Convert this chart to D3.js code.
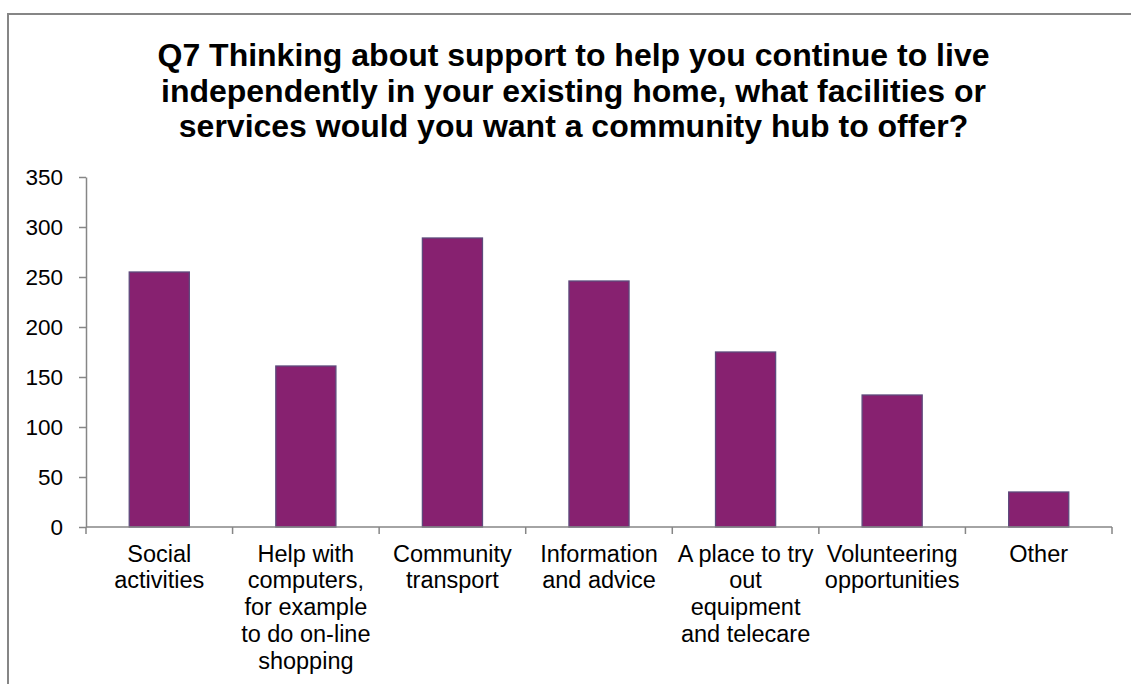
<!DOCTYPE html>
<html>
<head>
<meta charset="utf-8">
<script src="https://cdn.jsdelivr.net/npm/d3@7"></script>
<style>
  html, body { margin: 0; padding: 0; background: #fff; }
  svg { display: block; }
  text { font-family: "Liberation Sans", Arial, sans-serif; fill: #000; }
</style>
</head>
<body>
<svg id="chart" width="1131" height="684"></svg>
<script>
// Survey responses per facility / service
const categories = [
  "Social activities",
  "Help with computers, for example to do on-line shopping",
  "Community transport",
  "Information and advice",
  "A place to try out equipment and telecare",
  "Volunteering opportunities",
  "Other"
];
const values = [255, 161, 289, 246, 175, 132, 35];
const tickLabels = [
  ["Social", "activities"],
  ["Help with", "computers,", "for example", "to do on-line", "shopping"],
  ["Community", "transport"],
  ["Information", "and advice"],
  ["A place to try", "out", "equipment", "and telecare"],
  ["Volunteering", "opportunities"],
  ["Other"]
];
const yTicks = [0, 50, 100, 150, 200, 250, 300, 350];
const titleLines = [
  "Q7 Thinking about support to help you continue to live",
  "independently in your existing home, what facilities or",
  "services would you want a community hub to offer?"
];

const svg = d3.select("#chart");
const W = 1131, H = 684;
const axisColor = "#868686";

// Chart area frame (open on the right and bottom)
svg.append("path")
  .attr("d", `M8,${H} L8,14 L${W},14`)
  .attr("fill", "none")
  .attr("stroke", axisColor)
  .attr("stroke-width", 2);

// Title
svg.append("text")
  .attr("text-anchor", "middle")
  .attr("font-size", 32)
  .attr("font-weight", "bold")
  .selectAll("tspan")
  .data(titleLines)
  .join("tspan")
  .attr("x", 573.5)
  .attr("y", (d, i) => 66 + i * 35.5)
  .text(d => d);

const plot = { left: 86, right: 1112, top: 177, bottom: 527 };

const x = d3.scaleBand()
  .domain(categories)
  .range([plot.left, plot.right])
  .paddingInner(0.59)
  .paddingOuter(0.295);

const y = d3.scaleLinear()
  .domain([0, 350])
  .range([plot.bottom, plot.top]);

// Bars
svg.append("g")
  .selectAll("rect")
  .data(categories)
  .join("rect")
  .attr("x", d => x(d))
  .attr("width", x.bandwidth())
  .attr("y", (d, i) => y(values[i]))
  .attr("height", (d, i) => y(0) - y(values[i]))
  .attr("fill", "#872170")
  .attr("stroke", "#5e4a7c")
  .attr("stroke-width", 1.3);

// Y axis
const yAxis = svg.append("g")
  .attr("transform", `translate(${plot.left},0)`)
  .call(d3.axisLeft(y).tickValues(yTicks).tickSize(7).tickPadding(16).tickSizeOuter(0));
yAxis.select(".domain").attr("stroke", axisColor).attr("stroke-width", 1.5);
yAxis.selectAll(".tick line").attr("stroke", axisColor).attr("stroke-width", 1.5);
yAxis.selectAll(".tick text")
  .attr("font-size", 22.5)
  .attr("font-family", "Liberation Sans, Arial, sans-serif")
  .attr("fill", "#000");

// X axis: boundary ticks between categories
const boundaries = d3.range(categories.length + 1).map(i => plot.left + i * (plot.right - plot.left) / categories.length);
const xg = svg.append("g");
xg.append("line")
  .attr("x1", plot.left).attr("x2", plot.right)
  .attr("y1", plot.bottom).attr("y2", plot.bottom)
  .attr("stroke", axisColor).attr("stroke-width", 1.5);
xg.selectAll("line.tk")
  .data(boundaries)
  .join("line")
  .attr("class", "tk")
  .attr("x1", d => d).attr("x2", d => d)
  .attr("y1", plot.bottom).attr("y2", plot.bottom + 7)
  .attr("stroke", axisColor).attr("stroke-width", 1.5);

// Category labels
xg.selectAll("text.cat")
  .data(categories)
  .join("text")
  .attr("class", "cat")
  .attr("text-anchor", "middle")
  .attr("font-size", 23.5)
  .each(function (d, i) {
    const cx = x(d) + x.bandwidth() / 2;
    d3.select(this).selectAll("tspan")
      .data(tickLabels[i])
      .join("tspan")
      .attr("x", cx)
      .attr("y", (t, j) => 561.7 + j * 26.7)
      .text(t => t);
  });
</script>
</body>
</html>
